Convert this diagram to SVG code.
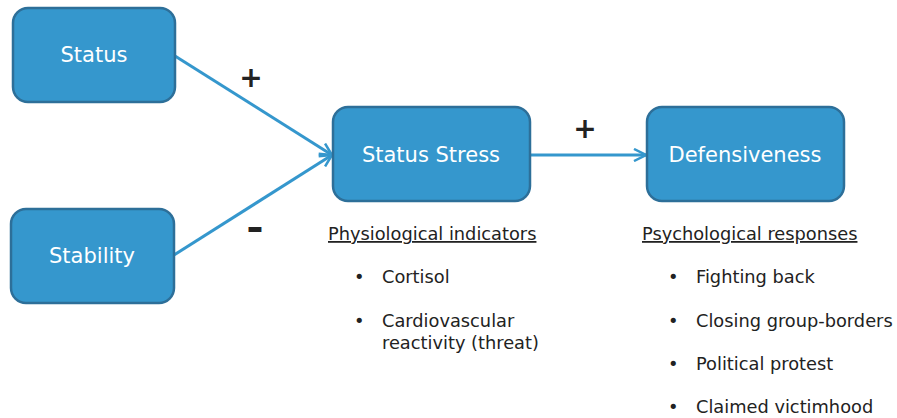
<svg xmlns="http://www.w3.org/2000/svg" width="897" height="418" viewBox="0 0 897 418">
<defs>
<style>
.box{fill:#3597cd;stroke:#2d6f99;stroke-width:2.5}
.lbl{fill:#ffffff;font-family:"DejaVu Sans",Verdana,sans-serif;font-size:21px;text-anchor:middle}
.conn{stroke:#3597cd;stroke-width:3;fill:none}
.sign{fill:#222;font-family:"DejaVu Sans",sans-serif;font-size:28px;font-weight:bold;text-anchor:middle}
.txt{fill:#222;font-family:"DejaVu Sans",Verdana,sans-serif;font-size:17.8px}
</style>
<marker id="arr" viewBox="0 0 14 14" refX="13" refY="7" markerWidth="14" markerHeight="14" markerUnits="userSpaceOnUse" orient="auto">
<path d="M1,1 L13,7 L1,13" fill="none" stroke="#3597cd" stroke-width="2.5"/>
</marker>
</defs>
<g id="connectors">
<line class="conn" x1="175" y1="56" x2="332" y2="155" marker-end="url(#arr)"/>
<line class="conn" x1="174" y1="255" x2="332" y2="155" marker-end="url(#arr)"/>
<line class="conn" x1="530" y1="155" x2="646" y2="155" marker-end="url(#arr)"/>
<text class="sign" x="251" y="87">+</text>
<text class="sign" transform="translate(255 240) scale(1.5 1.3)" x="0" y="0">-</text>
<text class="sign" x="585" y="138">+</text>
</g>
<g id="status">
<rect class="box" x="13" y="8" width="162" height="94" rx="15"/>
<text class="lbl" x="94" y="62">Status</text>
</g>
<g id="stability">
<rect class="box" x="11" y="209" width="163" height="94" rx="15"/>
<text class="lbl" x="92" y="263">Stability</text>
</g>
<g id="status-stress">
<rect class="box" x="333" y="107" width="197" height="94" rx="15"/>
<text class="lbl" x="431" y="162">Status Stress</text>
</g>
<g id="defensiveness">
<rect class="box" x="647" y="107" width="197" height="94" rx="15"/>
<text class="lbl" x="745" y="162">Defensiveness</text>
</g>
<g id="physiological">
<text class="txt" x="328" y="240" text-decoration="underline">Physiological indicators</text>
<text class="txt" x="354" y="283">•</text>
<text class="txt" x="382" y="283">Cortisol</text>
<text class="txt" x="354" y="327">•</text>
<text class="txt" x="382" y="327">Cardiovascular</text>
<text class="txt" x="382" y="349">reactivity (threat)</text>
</g>
<g id="psychological">
<text class="txt" x="642" y="240" text-decoration="underline">Psychological responses</text>
<text class="txt" x="668" y="283">•</text>
<text class="txt" x="696" y="283">Fighting back</text>
<text class="txt" x="668" y="327">•</text>
<text class="txt" x="696" y="327">Closing group-borders</text>
<text class="txt" x="668" y="370">•</text>
<text class="txt" x="696" y="370">Political protest</text>
<text class="txt" x="668" y="413">•</text>
<text class="txt" x="696" y="413">Claimed victimhood</text>
</g>
</svg>
